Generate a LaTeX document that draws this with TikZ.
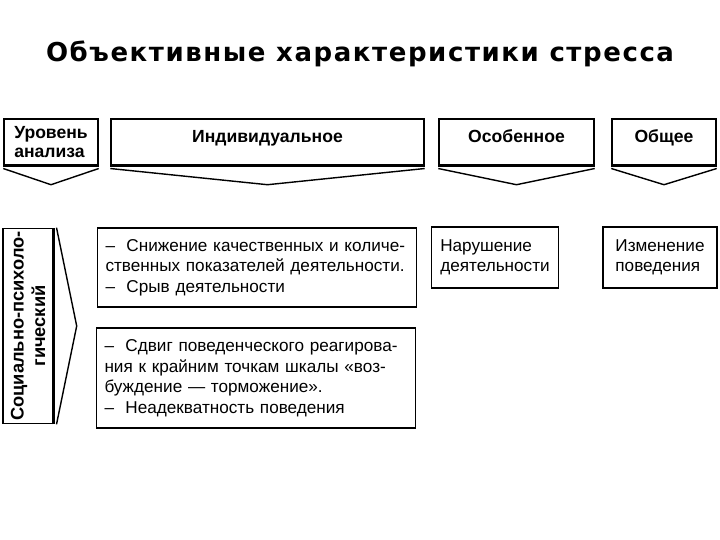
\documentclass[tikz,border=0pt]{standalone}
\usepackage{fontspec}
\setmainfont{Liberation Sans}
\newfontfamily\titlefont[LetterSpace=6]{DejaVu Sans}
\usetikzlibrary{positioning}
\newlength{\bodyw}
\setlength{\bodyw}{7.575cm}
\newcommand{\jline}[1]{\makebox[\bodyw][s]{#1}}
\tikzset{
  titletext/.style={font=\titlefont\bfseries\fontsize{18.5}{22}\selectfont},
  hdrbox/.style={draw, line width=1pt, align=left, inner sep=2pt,
    minimum height=1.15cm, font=\bfseries\fontsize{12.5}{14}\selectfont},
  hdrone/.style={text height=0.29cm, text depth=0.26cm},
  socbox/.style={draw, line width=1pt, rotate=90, align=center, inner sep=2pt,
    minimum width=4.85cm, minimum height=1.25cm,
    font=\bfseries\fontsize{13}{15.3}\selectfont},
  txtbox/.style={draw, line width=0.8pt, align=left, inner xsep=0.21cm,
    font=\fontsize{12.2}{14.6}\selectfont},
  botline/.style={line width=2.2pt},
  arrline/.style={line width=1pt, line join=miter},
}

\begin{document}
\begin{tikzpicture}

\useasboundingbox (0,0) rectangle (18,-13.5);

%%==========================================================================
%% TITLE
%%==========================================================================
\node[titletext] (ttl) at (9,-1.35) {Объективные характеристики стресса};

%%==========================================================================
%% HEADER ROW — levels
%%==========================================================================
\node[hdrbox, minimum width=2.35cm] (lvl) at (1.275,-3.55) {Уровень\\анализа};
\node[hdrbox, hdrone, minimum width=7.825cm] (ind) at (6.6875,-3.55) {Индивидуальное};
\node[hdrbox, hdrone, minimum width=3.875cm] (osob) at (12.9125,-3.55) {Особенное};
\node[hdrbox, hdrone, minimum width=2.6cm] (obsh) at (16.6,-3.55) {Общее};

%% thick bottom edges and the arrow points below them
\draw[botline] (lvl.south west) -- (lvl.south east);
\draw[botline] (ind.south west) -- (ind.south east);
\draw[botline] (osob.south west) -- (osob.south east);
\draw[botline] (obsh.south west) -- (obsh.south east);
\draw[arrline] ([yshift=-2pt]lvl.south west) -- ([yshift=-0.475cm]lvl.south)
  -- ([yshift=-2pt]lvl.south east);
\draw[arrline] ([yshift=-2pt]ind.south west) -- ([yshift=-0.475cm]ind.south)
  -- ([yshift=-2pt]ind.south east);
\draw[arrline] ([yshift=-2pt]osob.south west) -- ([yshift=-0.475cm]osob.south)
  -- ([yshift=-2pt]osob.south east);
\draw[arrline] ([yshift=-2pt]obsh.south west) -- ([yshift=-0.475cm]obsh.south)
  -- ([yshift=-2pt]obsh.south east);

%%==========================================================================
%% LEFT COLUMN — socio-psychological level
%%==========================================================================
\node[socbox] (soc) at (0.7,-8.15) {Социально-психоло-\\гический};
\draw[botline] (soc.south west) -- (soc.south east);
\draw[arrline] ([xshift=2pt]soc.south west) -- ([xshift=0.575cm]soc.south)
  -- ([xshift=2pt]soc.south east);

%%==========================================================================
%% CONTENT BOXES
%%==========================================================================
\node[txtbox, text width=\bodyw, minimum height=1.975cm] (snizh) at (6.425,-6.6875)
  {\jline{–\ \ Снижение качественных и количе-}\\
   \jline{ственных показателей деятельности.}\\
   –\ \ Срыв деятельности};
\node[txtbox, text width=\bodyw, minimum height=2.5cm] (sdvig) at (6.4,-9.45)
  {\jline{–\ \ Сдвиг поведенческого реагирова-}\\
   \jline{ния к крайним точкам шкалы «воз-}\\
   буждение — торможение».\\
   –\ \ Неадекватность поведения};
\node[txtbox, minimum width=3.15cm, minimum height=1.525cm] (narush) at (12.375,-6.4375)
  {Нарушение\\деятельности};
\node[txtbox, minimum width=2.85cm, minimum height=1.525cm] (izmen) at (16.5,-6.4375)
  {Изменение\\поведения};

\end{tikzpicture}
\end{document}
